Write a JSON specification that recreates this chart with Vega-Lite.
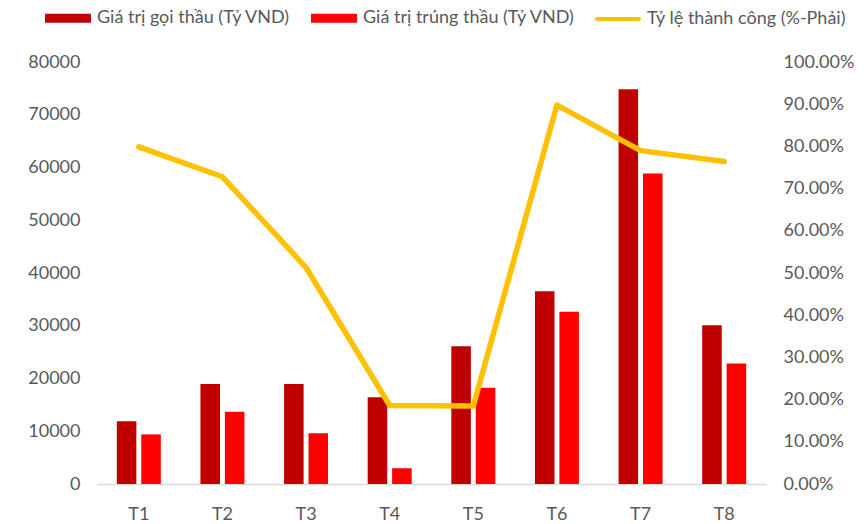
{
  "$schema": "https://vega.github.io/schema/vega-lite/v6.json",
  "autosize": "none",
  "width": 669,
  "height": 422,
  "padding": {"left": 97, "top": 62, "right": 101, "bottom": 40},
  "background": "#ffffff",
  "config": {
    "view": {"stroke": null},
    "font": "Lato",
    "axis": {"labelFont": "Lato", "labelColor": "#595959", "labelFontSize": 18, "grid": false, "ticks": false, "title": null}
  },
  "datasets": {
    "bars": [
      {"month": "T1", "series": "Giá trị gọi thầu (Tỷ VND)", "value": 11900},
      {"month": "T1", "series": "Giá trị trúng thầu (Tỷ VND)", "value": 9400},
      {"month": "T2", "series": "Giá trị gọi thầu (Tỷ VND)", "value": 18950},
      {"month": "T2", "series": "Giá trị trúng thầu (Tỷ VND)", "value": 13700},
      {"month": "T3", "series": "Giá trị gọi thầu (Tỷ VND)", "value": 18950},
      {"month": "T3", "series": "Giá trị trúng thầu (Tỷ VND)", "value": 9600},
      {"month": "T4", "series": "Giá trị gọi thầu (Tỷ VND)", "value": 16450},
      {"month": "T4", "series": "Giá trị trúng thầu (Tỷ VND)", "value": 3000},
      {"month": "T5", "series": "Giá trị gọi thầu (Tỷ VND)", "value": 26100},
      {"month": "T5", "series": "Giá trị trúng thầu (Tỷ VND)", "value": 18250},
      {"month": "T6", "series": "Giá trị gọi thầu (Tỷ VND)", "value": 36550},
      {"month": "T6", "series": "Giá trị trúng thầu (Tỷ VND)", "value": 32650},
      {"month": "T7", "series": "Giá trị gọi thầu (Tỷ VND)", "value": 74850},
      {"month": "T7", "series": "Giá trị trúng thầu (Tỷ VND)", "value": 58850},
      {"month": "T8", "series": "Giá trị gọi thầu (Tỷ VND)", "value": 30100},
      {"month": "T8", "series": "Giá trị trúng thầu (Tỷ VND)", "value": 22850}
    ],
    "rate": [
      {"month": "T1", "rate": 0.799},
      {"month": "T2", "rate": 0.728},
      {"month": "T3", "rate": 0.513},
      {"month": "T4", "rate": 0.186},
      {"month": "T5", "rate": 0.185},
      {"month": "T6", "rate": 0.898},
      {"month": "T7", "rate": 0.79},
      {"month": "T8", "rate": 0.764}
    ]
  },
  "layer": [
    {
      "data": {"name": "bars"},
      "mark": {"type": "bar"},
      "encoding": {
        "x": {"field": "month", "type": "nominal", "sort": null,
              "scale": {"paddingInner": 0.474, "paddingOuter": 0.237},
              "axis": {"labelAngle": 0, "domainColor": "#D9D9D9", "domainWidth": 1.5, "labelPadding": 21}},
        "xOffset": {"field": "series", "type": "nominal", "scale": {"paddingInner": 0.2},
                    "sort": ["Giá trị gọi thầu (Tỷ VND)", "Giá trị trúng thầu (Tỷ VND)"]},
        "y": {"field": "value", "type": "quantitative",
              "scale": {"domain": [0, 80000], "nice": false},
              "axis": {"orient": "left", "values": [0, 10000, 20000, 30000, 40000, 50000, 60000, 70000, 80000], "format": "d", "domain": false, "labelPadding": 17}},
        "color": {"field": "series", "type": "nominal",
                  "scale": {"domain": ["Giá trị gọi thầu (Tỷ VND)", "Giá trị trúng thầu (Tỷ VND)", "Tỷ lệ thành công (%-Phải)"],
                            "range": ["#C00000", "#FF0000", "#FFC000"]},
                  "legend": {
                    "orient": "none", "legendX": -52, "legendY": -67, "direction": "horizontal", "padding": 0,
                    "title": null, "labelFont": "Lato", "labelFontSize": 18, "labelColor": "#595959", "labelLimit": 0,
                    "symbolSize": 1764, "symbolStrokeWidth": 4, "labelOffset": 6, "columnPadding": 14,
                    "encode": {
                      "symbols": {"update": {
                        "size": {"value": 1764},
                        "shape": {"signal": "datum.value === 'Tỷ lệ thành công (%-Phải)' ? 'M-1,0H1' : 'M-1,-0.12H1V0.12H-1Z'"},
                        "fill": {"signal": "datum.value === 'Tỷ lệ thành công (%-Phải)' ? 'transparent' : scale('color', datum.value)"},
                        "stroke": {"signal": "scale('color', datum.value)"},
                        "strokeWidth": {"value": 4},
                        "strokeCap": {"value": "round"},
                        "opacity": {"value": 1},
                        "fillOpacity": {"value": 1},
                        "strokeOpacity": {"value": 1}
                      }}
                    }
                  }}
      }
    },
    {
      "data": {"name": "rate"},
      "mark": {"type": "line", "strokeWidth": 5.5, "strokeCap": "round", "strokeJoin": "round"},
      "encoding": {
        "x": {"field": "month", "type": "nominal", "sort": null},
        "y": {"field": "rate", "type": "quantitative",
              "scale": {"domain": [0, 1], "nice": false},
              "axis": {"orient": "right", "values": [0, 0.1, 0.2, 0.3, 0.4, 0.5, 0.6, 0.7, 0.8, 0.9, 1.0], "format": ".2%", "domain": false, "labelPadding": 17}},
        "color": {"datum": "Tỷ lệ thành công (%-Phải)", "type": "nominal"}
      }
    }
  ],
  "resolve": {"scale": {"y": "independent"}}
}
